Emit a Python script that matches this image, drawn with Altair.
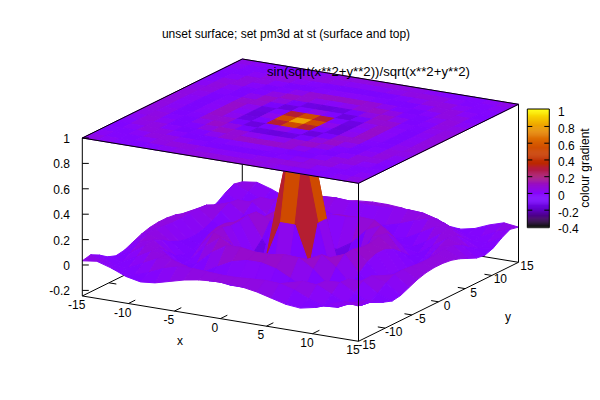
import altair as alt

# sample positions (20 x 20 grid on [-15, 15])
GRID = [-15, -13.42, -11.84, -10.26, -8.68, -7.11, -5.53, -3.95, -2.37, -0.79,
        0.79, 2.37, 3.95, 5.53, 7.11, 8.68, 10.26, 11.84, 13.42, 15]

# surface heights for one quadrant, upper triangle (row i, columns j >= i), from centre outwards
Z_ROWS = [
    [0.805, 0.241, -0.192, -0.115, 0.107, 0.074, -0.074, -0.054, 0.057, 0.042],
    [-0.062, -0.216, -0.044, 0.125, 0.046, -0.085, -0.038, 0.064, 0.033],
    [-0.115, 0.072, 0.118, -0.012, -0.091, -0.007, 0.071, 0.013],
    [0.128, 0.046, -0.074, -0.067, 0.037, 0.064, -0.017],
    [-0.058, -0.087, -0.007, 0.069, 0.033, -0.047],
    [-0.023, 0.057, 0.058, -0.017, -0.058],
    [0.064, 0.003, -0.055, -0.034],
    [-0.051, -0.046, 0.013],
    [0.007, 0.048],
    [0.033],
]

CB_STOPS = [-0.4, -0.3, -0.2, -0.1, -0.05, 0, 0.1, 0.2, 0.3, 0.35, 0.4, 0.5, 0.6, 0.7, 0.8, 0.9, 1]
CB_COLORS = ["#000000", "#44006f", "#6001c7", "#7603f9", "#8004ff", "#8806f9", "#980cc7", "#a7146f",
             "#b41c38", "#bb2800", "#c13000", "#cc4400", "#d75d00", "#e27c00", "#eca100", "#f6cc00", "#ffff00"]

X_TICKS = [-15, -10, -5, 0, 5, 10, 15]
Y_TICKS = [-15, -10, -5, 0, 5, 10, 15]
Z_TICKS = [-0.2, 0, 0.2, 0.4, 0.6, 0.8, 1]
CB_TICKS = [-0.4, -0.2, 0, 0.2, 0.4, 0.6, 0.8, 1]
Z_MIN = -0.244
Z_MAX = 1

FONT = "Liberation Sans"


def zval(k, m):
    a = k - 10 if k >= 10 else 9 - k
    b = m - 10 if m >= 10 else 9 - m
    i, j = min(a, b), max(a, b)
    return Z_ROWS[i][j - i]


def px(x, y):
    return 300.4 + 9.207 * x + 5.333 * y


def py(x, y, z):
    return 248.15 + 1.51 * x - 2.633 * y - 127 * z


def features(flat):
    out = []
    for k in range(19):
        for m in range(19):
            cx = [k, k + 1, k + 1, k, k]
            cy = [m, m, m + 1, m + 1, m]
            zs = [zval(a, b) for a, b in zip(cx, cy)]
            ring = [[px(GRID[a], GRID[b]), py(GRID[a], GRID[b], 1 if flat else zs[n])]
                    for n, (a, b) in enumerate(zip(cx, cy))]
            mean = sum(zs[:4]) / 4
            depth = 1.51 * (GRID[k] + GRID[k + 1]) - 2.633 * (GRID[m] + GRID[m + 1])
            out.append((depth, {"type": "Feature",
                                "geometry": {"type": "Polygon", "coordinates": [ring]},
                                "properties": {"z": mean}}))
    out.sort(key=lambda t: t[0])
    return [f for _, f in out]


color_scale = alt.Scale(domain=CB_STOPS, range=CB_COLORS, clamp=True, interpolate="rgb")
x_px = alt.Scale(domain=[8, 592], nice=False, zero=False)
y_px = alt.Scale(domain=[392, 8], nice=False, zero=False)


def surface(flat):
    return alt.Chart(alt.Data(values=features(flat))).mark_geoshape(
        strokeWidth=1, filled=True
    ).encode(
        color=alt.Color("properties.z:Q", scale=color_scale, legend=None),
        stroke=alt.Stroke("properties.z:Q", scale=color_scale, legend=None),
    ).project(type="identity", scale=1, translate=[-8, -8])


def seg(x1, y1, z1, x2, y2, z2):
    return {"a": px(x1, y1), "b": py(x1, y1, z1), "c": px(x2, y2), "d": py(x2, y2, z2)}


def rules(rows):
    return alt.Chart(alt.Data(values=rows)).mark_rule(color="black", strokeWidth=1).encode(
        x=alt.X("a:Q", scale=x_px, axis=None),
        y=alt.Y("b:Q", scale=y_px, axis=None),
        x2="c:Q",
        y2="d:Q",
    )


def texts(rows, size=12, **kw):
    return alt.Chart(alt.Data(values=rows)).mark_text(
        font=FONT, fontSize=size, color="black", baseline="middle", dy=1, **kw
    ).encode(
        x=alt.X("a:Q", scale=x_px, axis=None),
        y=alt.Y("b:Q", scale=y_px, axis=None),
        text="t:N",
    )


L, R = -15, 15
back = [seg(L, R, Z_MIN, L, L, Z_MIN), seg(L, R, Z_MIN, R, R, Z_MIN), seg(L, R, Z_MIN, L, R, Z_MAX)]
back += [seg(t, R, Z_MIN, t, R - 1.3, Z_MIN) for t in X_TICKS[1:-1]]
back += [seg(L, t, Z_MIN, L + 0.8, t, Z_MIN) for t in Y_TICKS[1:-1]]

front = [
    seg(L, L, Z_MIN, R, L, Z_MIN), seg(R, L, Z_MIN, R, R, Z_MIN),
    seg(L, L, Z_MIN, L, L, Z_MAX), seg(R, L, Z_MIN, R, L, Z_MAX), seg(R, R, Z_MIN, R, R, Z_MAX),
    seg(L, L, Z_MAX, R, L, Z_MAX), seg(R, L, Z_MAX, R, R, Z_MAX),
    seg(R, R, Z_MAX, L, R, Z_MAX), seg(L, R, Z_MAX, L, L, Z_MAX),
]
front += [seg(t, L, Z_MIN, t, L + 1.3, Z_MIN) for t in X_TICKS[1:-1]]
front += [seg(R, t, Z_MIN, R - 0.8, t, Z_MIN) for t in Y_TICKS[1:-1]]
front_z_ticks = [{"a": 82.3, "b": py(L, L, t), "c": 88.8, "d": py(L, L, t)} for t in Z_TICKS]

x_labels = [{"a": px(t, L) - 5.6, "b": py(t, L, Z_MIN) + 8, "t": str(t)} for t in X_TICKS]
y_labels = [{"a": px(R, t) + 8.5, "b": py(R, t, Z_MIN) + 3, "t": str(t)} for t in Y_TICKS]
z_labels = [{"a": 70, "b": py(L, L, t), "t": str(t)} for t in Z_TICKS]


def cb_y(v):
    return 226.9 - (v + 0.4) * 83.7


cb_rules = [
    {"a": 527.3, "b": 109, "c": 549.3, "d": 109}, {"a": 527.3, "b": 227.7, "c": 549.3, "d": 227.7},
    {"a": 527.3, "b": 109, "c": 527.3, "d": 227.7}, {"a": 549.3, "b": 109, "c": 549.3, "d": 227.7},
]
for v in CB_TICKS[1:-1]:
    cb_rules.append({"a": 527.3, "b": cb_y(v), "c": 532.3, "d": cb_y(v)})
    cb_rules.append({"a": 544.3, "b": cb_y(v), "c": 549.3, "d": cb_y(v)})
cb_labels = [{"a": 558, "b": cb_y(v) + 1.4, "t": str(v)} for v in CB_TICKS]

# colour bar cells, every 0.0125 of the colour range
cb_cells = [{"v": -0.4 + n * 0.0125, "a": 527.3, "c": 549.3,
             "b": max(109, cb_y(-0.4 + (n + 1) * 0.0125) - 0.4) if n < 111 else 109,
             "d": min(227.7, cb_y(-0.4 + n * 0.0125))} for n in range(112)]

colour_bar = alt.Chart(alt.Data(values=cb_cells)).mark_rect().encode(
    x=alt.X("a:Q", scale=x_px, axis=None),
    x2="c:Q",
    y=alt.Y("b:Q", scale=y_px, axis=None),
    y2="d:Q",
    color=alt.Color("v:Q", scale=color_scale, legend=None),
)

chart = alt.layer(
    rules(back),
    surface(False),
    surface(True),
    rules(front),
    rules(front_z_ticks),
    colour_bar,
    rules(cb_rules),
    texts(x_labels, align="center"),
    texts(y_labels, align="center"),
    texts(z_labels, align="right"),
    texts(cb_labels, align="left"),
    texts([{"a": 286, "b": 33, "t": "unset surface; set pm3d at st (surface and top)"}], align="center"),
    texts([{"a": 470, "b": 71, "t": "sin(sqrt(x**2+y**2))/sqrt(x**2+y**2)"}], size=13.2, align="right"),
    texts([{"a": 180, "b": 340, "t": "x"}], align="center"),
    texts([{"a": 508, "b": 316, "t": "y"}], align="center"),
    texts([{"a": 584, "b": 168, "t": "colour gradient"}], align="center", angle=270),
).resolve_scale(x="shared", y="shared", color="shared").properties(
    width=584, height=384, padding=0, autosize=alt.AutoSizeParams(type="none"),
    background="white",
).configure_view(stroke=None)

chart.save("out.html", embed_options={"renderer": "svg", "actions": False})
